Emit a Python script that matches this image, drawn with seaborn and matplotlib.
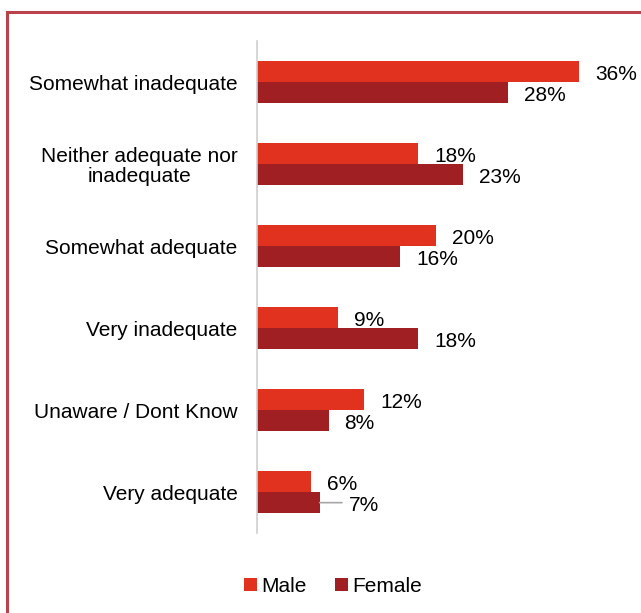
import matplotlib
matplotlib.use("Agg")
import matplotlib.pyplot as plt
import seaborn as sns
import pandas as pd
from matplotlib.patches import Rectangle

categories = ["Somewhat inadequate", "Neither adequate nor\ninadequate", "Somewhat adequate",
              "Very inadequate", "Unaware / Dont Know", "Very adequate"]
male = [36, 18, 20, 9, 12, 6]
female = [28, 23, 16, 18, 8, 7]
series = ["Male", "Female"]
colors = ["#E0321F", "#A01F22"]

df = pd.DataFrame({
    "category": categories * 2,
    "value": male + female,
    "series": ["Male"] * len(categories) + ["Female"] * len(categories),
})

sns.set_style("white")
plt.rcParams["font.family"] = ["Liberation Sans", "DejaVu Sans"]
plt.rcParams["text.color"] = "black"
FS = 15

fig = plt.figure(figsize=(6.41, 6.13), dpi=100)
ax = fig.add_axes([257 / 641, 1 - 533 / 613, 358 / 641, 492 / 613])

sns.barplot(data=df, y="category", x="value", hue="series", orient="h",
            palette=colors, width=0.52, ax=ax, legend=True, saturation=1,
            hue_order=series, order=categories, linewidth=0)

ax.set_xlim(0, 40)
ax.set_ylim(len(categories) - 0.5, -0.5)
ax.set_xlabel("")
ax.set_ylabel("")
ax.set_xticks([])
for s in ["top", "right", "bottom"]:
    ax.spines[s].set_visible(False)
ax.spines["left"].set_color("#D0D0D0")
ax.spines["left"].set_linewidth(1.2)
ax.tick_params(axis="y", length=0, pad=14, labelsize=FS, labelcolor="black")
for lbl in ax.get_yticklabels():
    lbl.set_horizontalalignment("right")
    lbl.set_multialignment("center")
    lbl.set_linespacing(1.1)

# value labels
for ci, (container, vals) in enumerate(zip(ax.containers, [male, female])):
    for bi, (bar, v) in enumerate(zip(container, vals)):
        y = bar.get_y() + bar.get_height() / 2
        x = bar.get_width()
        if ci == 1 and bi == len(vals) - 1:
            ax.annotate("", xy=(x, y), xytext=(x + 2.5, y),
                        arrowprops=dict(arrowstyle="-", color="#A6A6A6", lw=1.2,
                                        shrinkA=0, shrinkB=0))
            ax.annotate(f"{v}%", xy=(x, y), xytext=(21, -2), textcoords="offset points",
                        va="center", ha="left", fontsize=FS, color="black")
        else:
            ax.annotate(f"{v}%", xy=(x, y), xytext=(11.5, -2), textcoords="offset points",
                        va="center", ha="left", fontsize=FS, color="black")

leg = ax.legend(loc="center", bbox_to_anchor=(333 / 641, 1 - 586 / 613),
                bbox_transform=fig.transFigure, ncol=2, frameon=False,
                fontsize=FS, handlelength=0.6, handleheight=0.6,
                handletextpad=0.2, columnspacing=1.4, labelcolor="black")

fig.patches.append(Rectangle((7 / 641, -0.1), 1.2, 1 - 11.5 / 613 + 0.1,
                             transform=fig.transFigure, fill=False,
                             edgecolor="#B8434A", linewidth=2.2))

fig.savefig("out.png", dpi=100)
